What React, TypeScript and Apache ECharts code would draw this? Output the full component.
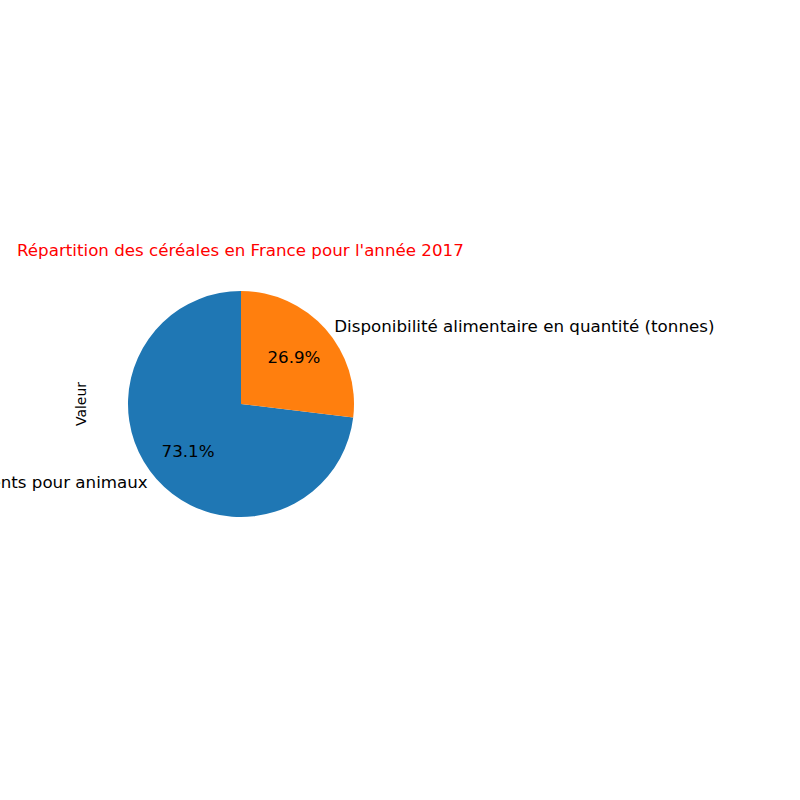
import { useEffect, useRef } from 'react';
import * as echarts from 'echarts';

const categories = ['Aliments pour animaux', 'Disponibilité alimentaire en quantité (tonnes)'];
const values = [73.1, 26.9];
const colors = ['#1f77b4', '#ff7f0e'];

const FONT = 'DejaVu Sans';
const R = 113;
const CENTER = [241, 404];

export default function App() {
  const ref = useRef<HTMLDivElement>(null);

  useEffect(() => {
    if (!ref.current) return;
    const chart = echarts.init(ref.current, undefined, { renderer: 'svg' });
    const data = categories.map((name, i) => ({ name, value: values[i], itemStyle: { color: colors[i] } }));
    chart.setOption({
      animation: false,
      title: {
        text: "Répartition des céréales en France pour l'année 2017",
        left: 12,
        top: 236,
        textStyle: { color: '#ff0000', fontFamily: FONT, fontSize: 16.7, fontWeight: 'normal' },
      },
      graphic: [{
        type: 'text', x: 81, y: 404, rotation: Math.PI / 2,
        style: { text: 'Valeur', fontFamily: FONT, fontSize: 13.9, fill: '#000', align: 'center', verticalAlign: 'middle' },
      }],
      series: [
        {
          type: 'pie', center: CENTER, radius: [0, R], startAngle: 90, clockwise: false,
          avoidLabelOverlap: false, silent: true, data,
          label: { position: 'outside', fontFamily: FONT, fontSize: 16.7, color: '#000', formatter: '{b}' },
          labelLine: { show: false, length: 5, length2: 0 },
        },
        {
          type: 'pie', center: CENTER, radius: [0, R * 1.2], startAngle: 90, clockwise: false,
          avoidLabelOverlap: false, silent: true,
          data: data.map((d) => ({ ...d, itemStyle: { color: 'transparent' } })),
          label: { position: 'inside', fontFamily: FONT, fontSize: 16.7, color: '#000', formatter: (p: any) => p.value.toFixed(1) + '%' },
          labelLine: { show: false },
        },
      ],
    });
    return () => chart.dispose();
  }, []);

  return <div ref={ref} style={{ position: 'fixed', left: 0, top: 0, width: 800, height: 800, background: '#fff' }} />;
}
